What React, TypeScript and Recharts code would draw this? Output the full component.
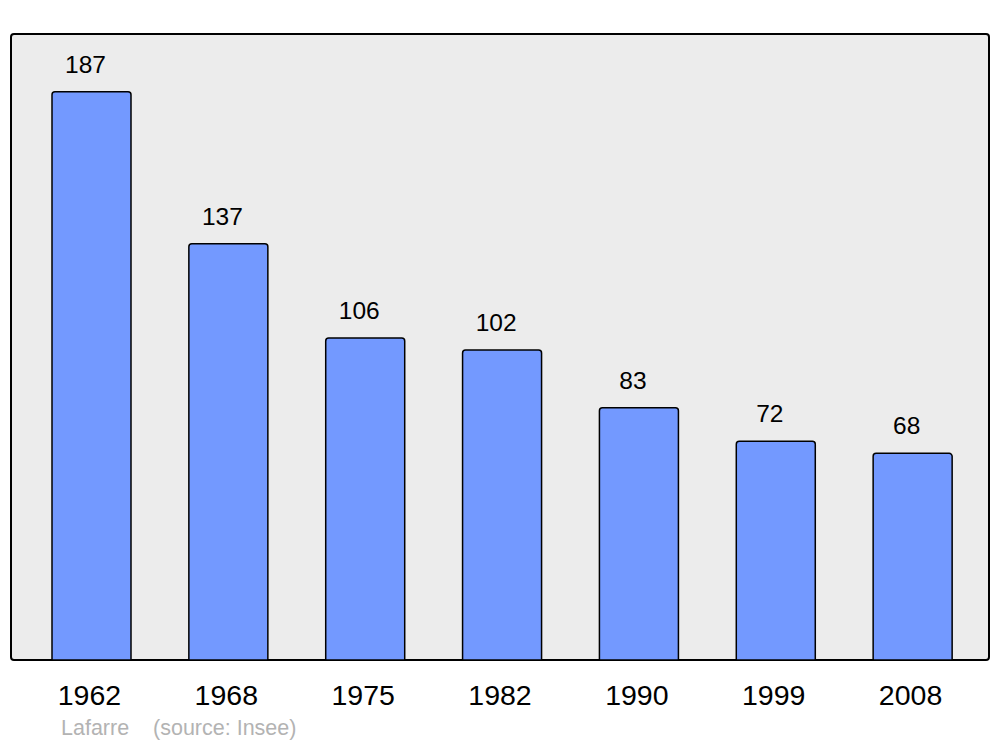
import React from 'react';
import { BarChart, Bar, XAxis, YAxis, LabelList } from 'recharts';

const years = ['1962', '1968', '1975', '1982', '1990', '1999', '2008'];
const population = [187, 137, 106, 102, 83, 72, 68];

const data = years.map((year, i) => ({ year, population: population[i] }));

const FONT = '"Liberation Sans", Arial, sans-serif';

const YearTick = (props: any) => {
    const { x, y, payload } = props;
    return (
        <text x={x - 2} y={y + 45} textAnchor="middle" fontSize={28.5} fontFamily={FONT} fill="#000">
            {payload.value}
        </text>
    );
};

const ValueLabel = (props: any) => {
    const { x, y, width, value } = props;
    return (
        <text x={x + width / 2 - 6} y={y - 19} textAnchor="middle" fontSize={24.5} fontFamily={FONT} fill="#000">
            {value}
        </text>
    );
};

export default function App() {
    return (
        <div style={{ position: 'absolute', left: 0, top: 0, width: 1000, height: 747, background: '#fff' }}>
            <div
                style={{
                    position: 'absolute',
                    left: 10,
                    top: 33,
                    width: 976,
                    height: 624,
                    border: '2px solid #000',
                    borderRadius: 4,
                    background: '#ececec',
                }}
            />
            <div style={{ position: 'absolute', left: 0, top: 0 }}>
                <BarChart width={1000} height={747} data={data} margin={{ top: 34, right: 11, bottom: 57, left: 11 }}>
                    <XAxis
                        dataKey="year"
                        height={30}
                        axisLine={false}
                        tickLine={false}
                        tickSize={0}
                        tickMargin={0}
                        padding={{ left: 12, right: 8 }}
                        tick={<YearTick />}
                        interval={0}
                    />
                    <YAxis hide domain={[0, 206]} />
                    <Bar
                        dataKey="population"
                        fill="#7399ff"
                        stroke="#000"
                        strokeWidth={1.5}
                        barSize={79}
                        radius={[3, 3, 0, 0]}
                        isAnimationActive={false}
                    >
                        <LabelList dataKey="population" content={<ValueLabel />} />
                    </Bar>
                </BarChart>
            </div>
            <div
                style={{
                    position: 'absolute',
                    left: 61,
                    top: 716,
                    fontFamily: FONT,
                    fontSize: 21.5,
                    color: '#b3b3b3',
                    whiteSpace: 'pre',
                }}
            >
                {'Lafarre    (source: Insee)'}
            </div>
        </div>
    );
}
